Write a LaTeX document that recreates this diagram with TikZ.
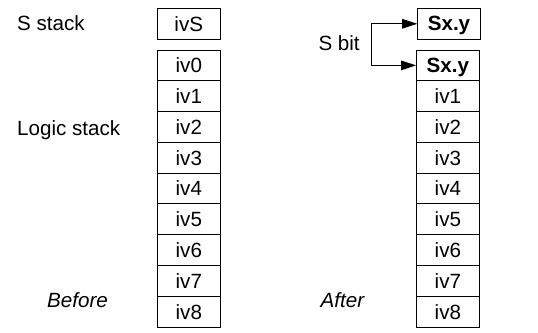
\documentclass[tikz,border=0pt]{standalone}
\usepackage{fontspec}
\setmainfont{Liberation Sans}
\usetikzlibrary{arrows.meta}
\begin{document}
\begin{tikzpicture}[x=1pt,y=-1pt,
  font=\fontsize{20.6}{24}\selectfont,
  cell/.style={draw, line width=0.95pt, minimum width=62.6pt, minimum height=30.8pt, inner sep=0pt, text depth=0pt},
  lbl/.style={anchor=base west, inner sep=0pt},
  arr/.style={line width=0.95pt, {Triangle[length=15pt,width=9.5pt]}-{Triangle[length=15pt,width=9.5pt]}}]
\useasboundingbox (0,0) rectangle (538,332);
% left side
\node[cell] (ivS) at (188.8,23.8) {ivS};
\foreach \t [count=\i from 0] in {iv0,iv1,iv2,iv3,iv4,iv5,iv6,iv7,iv8}
  \node[cell] (l\i) at (188.8,{50+30.78*(\i+0.5)}) {\t};
\node[lbl] (sstack) at (17,30) {S stack};
\node[lbl] (logic) at (17,135) {Logic stack};
\node[lbl] (before) at (47,307) {\itshape Before};
% right side
\node[cell] (rtop) at (449,23.8) {\bfseries Sx.y};
\node[cell] (r0) at (447.9,{50+30.78*0.5}) {\bfseries Sx.y};
\foreach \t [count=\i from 1] in {iv1,iv2,iv3,iv4,iv5,iv6,iv7,iv8}
  \node[cell] (r\i) at (447.9,{50+30.78*(\i+0.5)}) {\t};
\node[lbl] (sbit) at (318.3,50.7) {S bit};
\node[lbl] (after) at (320.5,307) {\itshape After};
\coordinate (bk) at (371,0);
\draw[arr] (rtop.west) -- (rtop.west -| bk) -- (r0.west -| bk) -- (r0.west);
\end{tikzpicture}
\end{document}
